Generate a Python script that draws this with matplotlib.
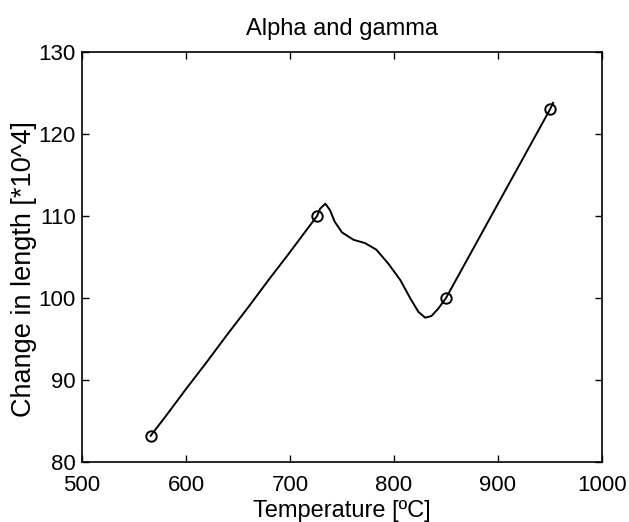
import matplotlib
matplotlib.use("Agg")
import matplotlib.pyplot as plt

plt.rcParams['font.family'] = ['Liberation Sans', 'DejaVu Sans']

# Measured curve (temperature in degC, change in length *10^4)
temperature = [566, 580, 600, 620, 640, 660, 680, 700, 710, 726, 729, 734, 738.5, 743,
               750, 761, 772, 783, 794.5, 806, 815.5, 823.5, 830, 836, 842.5, 850,
               870, 890, 910, 930, 950, 953]
length_change = [83.2, 85.5, 88.9, 92.2, 95.6, 98.9, 102.3, 105.6, 107.3, 110.0, 110.9, 111.5, 110.7, 109.3,
                 108.0, 107.1, 106.7, 105.9, 104.2, 102.2, 100.0, 98.3, 97.6, 97.8, 98.7, 100.0,
                 104.6, 109.2, 113.8, 118.4, 123.0, 123.8]

# Marked measurement points
marker_temperature = [566, 726, 850, 950]
marker_length = [83.2, 110.0, 100.0, 123.0]

x_ticks = [500, 600, 700, 800, 900, 1000]
y_ticks = [80, 90, 100, 110, 120, 130]

fig = plt.figure(figsize=(6.29, 5.22), dpi=100)
ax = fig.add_axes([82 / 629, 1 - 462 / 522, 520 / 629, 410 / 522])

ax.plot(temperature, length_change, color='black', linewidth=1.4)
ax.plot(marker_temperature, marker_length, linestyle='none', marker='o',
        markersize=7.5, markerfacecolor='none', markeredgecolor='black', markeredgewidth=1.4)

ax.set_xlim(500, 1000)
ax.set_ylim(80, 130)
ax.set_xticks(x_ticks)
ax.set_yticks(y_ticks)
ax.tick_params(direction='in', length=5, width=1, top=True, right=True, labelsize=16)
ax.tick_params(axis='x', pad=9.5)
ax.tick_params(axis='y', pad=4.5)
for s in ax.spines.values():
    s.set_linewidth(1.2)

ax.set_title('Alpha and gamma', fontsize=17, y=1 + 17 / 410, pad=0)
ax.set_xlabel('Temperature [ºC]', fontsize=17, va='baseline')
ax.xaxis.set_label_coords(0.5, -(517 - 462) / 410)
ax.set_ylabel('Change in length [*10^4]', fontsize=19.5, va='center')
ax.yaxis.set_label_coords(-(82 - 24) / 520, (462 - 269) / 410)

fig.savefig('out.png', dpi=100)
